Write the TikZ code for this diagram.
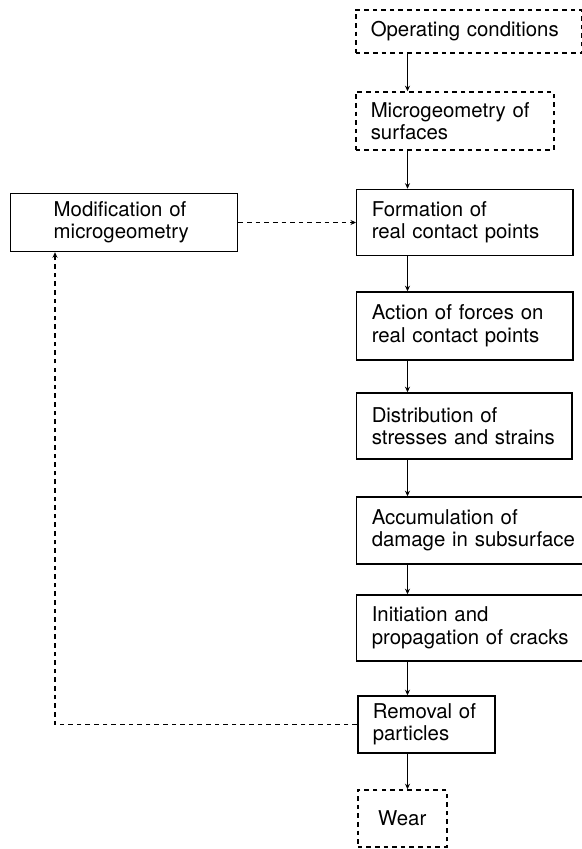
\documentclass[tikz,border=0pt]{standalone}
\usepackage{fontspec}
\setmainfont{TeX Gyre Heros}
\usetikzlibrary{arrows.meta}

\begin{document}
\begin{tikzpicture}[
        stepbox/.style={draw, line width=0.85pt, anchor=west, align=left, inner xsep=0.3cm, inner ysep=0pt,
            font=\fontsize{11.6}{12.8}\selectfont},
        dashbox/.style={stepbox, dash pattern=on 2.6pt off 2.3pt},
        flow/.style={line width=0.8pt, -{Stealth[length=1.1mm, width=1mm]}},
        loop/.style={flow, dash pattern=on 2.6pt off 2.3pt}]
    \useasboundingbox (0,0) rectangle (11.64,16.98);
    % main chain, all boxes start at the same left edge
    \node[dashbox, text width=3.92cm, minimum height=0.86cm] (operating) at (7.10,16.35) {Operating conditions};
    \node[dashbox, text width=3.36cm, minimum height=1.16cm] (microgeo) at (7.10,14.56) {Microgeometry of\\surfaces};
    \node[stepbox, text width=3.72cm, minimum height=1.32cm] (formation) at (7.12,12.53) {Formation of\\real contact points};
    \node[stepbox, text width=3.72cm, minimum height=1.36cm] (forces) at (7.12,10.46) {Action of forces on\\real contact points};
    \node[stepbox, text width=3.70cm, minimum height=1.32cm] (stresses) at (7.12,8.46) {Distribution of\\stresses and strains};
    \node[stepbox, text width=4.20cm, minimum height=1.34cm] (damage) at (7.12,6.37) {Accumulation of\\damage in subsurface};
    \node[stepbox, text width=4.20cm, minimum height=1.32cm] (cracks) at (7.12,4.42) {Initiation and\\propagation of cracks};
    \node[stepbox, text width=2.14cm, minimum height=1.14cm] (removal) at (7.14,2.49) {Removal of\\particles};
    \node[dashbox, align=center, inner xsep=0pt, text width=1.78cm, minimum height=1.14cm] (wear) at (7.14,0.61) {Wear};
    % feedback box on the left
    \node[stepbox, inner xsep=0.86cm, text width=2.82cm, minimum height=1.16cm] (modif) at (0.20,12.53) {Modification of\\microgeometry};

    % arrows down the chain
    \coordinate (spine) at (8.15,0);
    \foreach \a/\b in {operating/microgeo, microgeo/formation, formation/forces, forces/stresses,
            stresses/damage, damage/cracks, cracks/removal, removal/wear}
        \draw[flow] (\a.south -| spine) -- (\b.north -| spine);

    % feedback loop
    \coordinate (loopx) at (1.10,0);
    \draw[loop] (removal.west) -| (modif.south -| loopx);
    \draw[loop] (modif.east) -- (modif.east -| formation.west);
\end{tikzpicture}
\end{document}
